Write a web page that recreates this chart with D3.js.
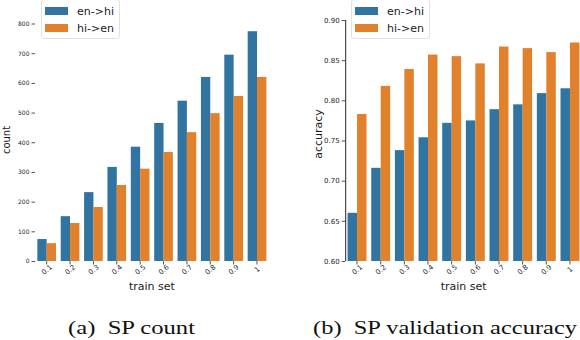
<!DOCTYPE html>
<html>
<head>
<meta charset="utf-8">
<script src="https://cdn.jsdelivr.net/npm/d3@7"></script>
<style>
  body { margin: 0; background: #fff; }
  svg { display: block; }
</style>
</head>
<body>
<div id="chart"></div>
<script>
(function () {

var trainSets = ['0.1', '0.2', '0.3', '0.4', '0.5', '0.6', '0.7', '0.8', '0.9', '1']
var seriesNames = ['en->hi', 'hi->en']

// SP count
var countEnHi = [74, 151, 232, 317, 385, 465, 540, 620, 695, 774]
var countHiEn = [60, 128, 182, 256, 311, 367, 434, 498, 556, 620]
var countTicks = [0, 100, 200, 300, 400, 500, 600, 700, 800]

// SP validation accuracy
var accEnHi = [0.660, 0.716, 0.738, 0.754, 0.772, 0.775, 0.789, 0.795, 0.809, 0.815]
var accHiEn = [0.783, 0.818, 0.839, 0.857, 0.855, 0.846, 0.867, 0.865, 0.860, 0.872]
var accTicks = [0.60, 0.65, 0.70, 0.75, 0.80, 0.85, 0.90]

var colors = ['#3274a1', '#e1812c']
var tickColor = '#262626'

var svg = d3.select('#chart').append('svg')
    .attr('width', 580)
    .attr('height', 340)

function drawPanel(opts) {
  var g = svg.append('g')

  var x = d3.scaleBand()
      .domain(trainSets)
      .range(opts.xRange)
      .paddingInner(0.2)
      .paddingOuter(0.1)

  var xInner = d3.scaleBand()
      .domain(seriesNames)
      .range([0, x.bandwidth()])

  var y = d3.scaleLinear()
      .domain(opts.yDomain)
      .range(opts.yRange)

  var rows = trainSets.map(function (t, i) {
    return { set: t, values: [opts.series[0][i], opts.series[1][i]] }
  })

  var groups = g.selectAll('.grp')
    .data(rows)
    .enter().append('g')
    .attr('class', 'grp')
    .attr('transform', function (d) { return 'translate(' + x(d.set) + ',0)' })

  groups.selectAll('rect')
    .data(function (d) { return d.values.map(function (v, k) { return { name: seriesNames[k], v: v, k: k } }) })
    .enter().append('rect')
    .attr('x', function (d) { return xInner(d.name) })
    .attr('width', xInner.bandwidth())
    .attr('y', function (d) { return y(d.v) })
    .attr('height', function (d) { return y(opts.yDomain[0]) - y(d.v) })
    .attr('fill', function (d) { return colors[d.k] })

  // y axis
  var yAxis = d3.axisLeft(y)
      .tickValues(opts.yTicks)
      .tickSize(3.5)
      .tickPadding(2)
      .tickFormat(opts.yFormat)

  var yg = g.append('g')
      .attr('transform', 'translate(' + opts.xRange[0] + ',0)')
      .call(yAxis)
  yg.selectAll('text')
      .attr('fill', tickColor)
      .style('font-family', 'DejaVu Sans')
      .style('font-size', opts.tickFont + 'px')
  yg.selectAll('line').attr('stroke', tickColor).attr('stroke-width', 0.8)
  yg.select('.domain')
      .attr('stroke', opts.spine ? tickColor : 'none')
      .attr('stroke-width', 1)
      .attr('d', 'M0.5,' + opts.yRange[1] + 'V' + opts.yRange[0])

  // x axis
  var xAxis = d3.axisBottom(x)
      .tickSize(3.5)
      .tickPadding(6)

  var xg = g.append('g')
      .attr('transform', 'translate(0,' + opts.yRange[0] + ')')
      .call(xAxis)
  xg.select('.domain').remove()
  xg.selectAll('line').attr('stroke', tickColor).attr('stroke-width', 0.8)
  xg.selectAll('text')
      .attr('fill', tickColor)
      .style('font-family', 'DejaVu Sans')
      .style('font-size', '7px')
      .attr('text-anchor', 'middle')
      .attr('dy', 0)
      .attr('y', 11)
      .attr('transform', 'rotate(-40,0,8.5)')

  // axis labels
  g.append('text')
      .text('train set')
      .attr('x', (opts.xRange[0] + Math.min(opts.xRange[1], 580)) / 2 + opts.xLabelShift)
      .attr('y', 290)
      .attr('text-anchor', 'middle')
      .attr('fill', '#1a1a1a')
      .style('font-family', 'DejaVu Sans')
      .style('font-size', '11px')

  g.append('text')
      .text(opts.yLabel)
      .attr('transform', 'translate(' + opts.yLabelX + ',' + opts.yLabelY + ') rotate(-90)')
      .attr('text-anchor', 'middle')
      .attr('fill', '#1a1a1a')
      .style('font-family', 'DejaVu Sans')
      .style('font-size', opts.yLabelFont + 'px')

  // legend
  var lg = g.append('g').attr('transform', 'translate(' + opts.legendX + ',-1)')
  lg.append('rect')
      .attr('x', 0.5).attr('y', 0.5)
      .attr('width', 78).attr('height', 39)
      .attr('rx', 2.5)
      .attr('fill', '#fff')
      .attr('fill-opacity', 0.8)
      .attr('stroke', '#d9d9d9')
      .attr('stroke-width', 0.8)

  var items = lg.selectAll('.item')
    .data(seriesNames)
    .enter().append('g')
    .attr('class', 'item')
    .attr('transform', function (d, i) { return 'translate(4,' + (8 + i * 17) + ')' })
  items.append('rect')
      .attr('width', 23).attr('height', 8)
      .attr('fill', function (d, i) { return colors[i] })
  items.append('text')
      .text(function (d) { return d })
      .attr('x', 32)
      .attr('y', 8)
      .attr('fill', '#1a1a1a')
      .style('font-family', 'DejaVu Sans')
      .style('font-size', '11px')

  // caption
  svg.append('text')
      .text(opts.caption)
      .attr('x', opts.captionX)
      .attr('y', 334)
      .attr('textLength', opts.captionLen)
      .attr('lengthAdjust', 'spacingAndGlyphs')
      .attr('fill', '#111')
      .style('font-family', 'Liberation Serif')
      .style('font-size', '19px')
      .style('white-space', 'pre')
}

drawPanel({
  series: [countEnHi, countHiEn],
  xRange: [35, 268.7],
  yDomain: [0, 800],
  yRange: [261, 23.5],
  yTicks: countTicks,
  yFormat: d3.format('d'),
  tickFont: 6,
  spine: false,
  yLabel: 'count',
  yLabelX: 10,
  yLabelY: 140,
  yLabelFont: 10,
  xLabelShift: 0,
  legendX: 41,
  caption: '(a)  SP count',
  captionX: 68,
  captionLen: 127
})

drawPanel({
  series: [accEnHi, accHiEn],
  xRange: [345.2, 581.8],
  yDomain: [0.6, 0.9],
  yRange: [261, 20],
  yTicks: accTicks,
  yFormat: d3.format('.2f'),
  tickFont: 7,
  spine: true,
  yLabel: 'accuracy',
  yLabelX: 322,
  yLabelY: 134,
  yLabelFont: 11,
  xLabelShift: 1,
  legendX: 351,
  caption: '(b)  SP validation accuracy',
  captionX: 313,
  captionLen: 264
})

})()
</script>
</body>
</html>
